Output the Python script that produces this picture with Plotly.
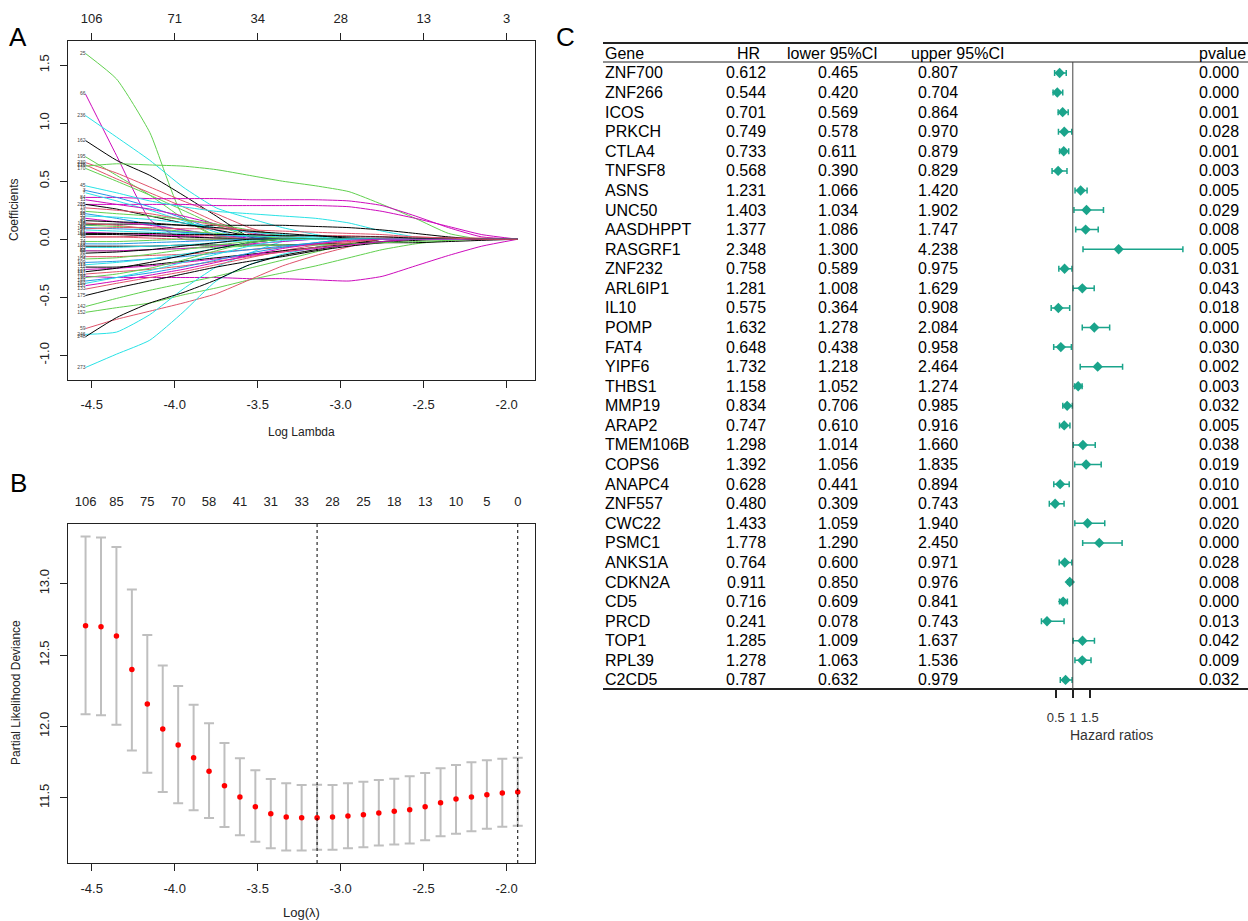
import plotly.graph_objects as go

W, H = 1248, 921
def px(x):
    return x / W
def py(y):
    return 1 - y / H

FONT = "Liberation Sans, Arial, sans-serif"
AXC = "#222222"
PALETTE = ["#000000", "#DF536B", "#61D04F", "#2297E6", "#28E2E5", "#CD0BBC"]

# ---------------- Panel A : LASSO coefficient paths ----------------
loglam_a = [-4.537, -4.35, -4.15, -3.95, -3.75, -3.55, -3.35, -3.15, -2.95, -2.75, -2.55, -2.35, -2.15, -1.933]
top_df_a_vals = [-4.5, -4.0, -3.5, -3.0, -2.5, -2.0]
top_df_a_text = ["106", "71", "34", "28", "13", "3"]

path_labels = ["25", "66", "236", "162", "195", "230", "216", "176", "170", "84", "201", "45", "118",
               "97", "152", "142", "59", "273", "246", "248", "175", "133", "12", "188", "31", "62",
               "3", "7", "11", "15", "19", "22", "28", "33", "38", "41", "44", "49", "53", "57",
               "61", "65", "70", "74", "79", "83", "88", "92", "99", "104", "109", "113", "121",
               "127", "131", "138", "144", "150", "157", "163", "169"]
path_colors = [2, 5, 4, 0, 2, 1, 1, 2, 2, 5, 5, 4, 0,
               5, 2, 2, 1, 4, 4, 0, 0, 1, 0, 0, 1, 2,
               3, 4, 5, 0, 1, 2, 3, 4, 5, 0, 1, 2, 3, 4,
               5, 0, 1, 2, 3, 4, 5, 0, 1, 2, 3, 4, 5,
               0, 1, 2, 3, 4, 5, 0, 1]
path_values = [
    [1.60, 1.38, 0.92, 0.20, 0.03, 0, 0, 0, 0, 0, 0, 0, 0, 0],
    [1.25, 0.72, 0.17, 0, 0, 0, 0, 0, 0, 0, 0, 0, 0, 0],
    [1.065, 0.88, 0.68, 0.45, 0.27, 0.18, 0.10, 0.04, 0, 0, 0, 0, 0, 0],
    [0.85, 0.68, 0.55, 0.38, 0.20, 0.02, 0, 0, 0, 0, 0, 0, 0, 0],
    [0.71, 0.55, 0.38, 0.18, 0.02, 0, 0, 0, 0, 0, 0, 0, 0, 0],
    [0.66, 0.57, 0.45, 0.33, 0.22, 0.10, 0.02, 0, 0, 0, 0, 0, 0, 0],
    [0.64, 0.52, 0.40, 0.28, 0.15, 0.05, 0, 0, 0, 0, 0, 0, 0, 0],
    [0.63, 0.65, 0.64, 0.63, 0.60, 0.55, 0.50, 0.46, 0.41, 0.30, 0.18, 0.05, 0, 0],
    [0.61, 0.50, 0.38, 0.25, 0.12, 0.03, 0, 0, 0, 0, 0, 0, 0, 0],
    [0.36, 0.36, 0.35, 0.35, 0.35, 0.34, 0.34, 0.34, 0.33, 0.29, 0.20, 0.10, 0.02, 0],
    [0.30, 0.30, 0.30, 0.30, 0.29, 0.29, 0.29, 0.29, 0.28, 0.24, 0.18, 0.11, 0.04, 0],
    [0.46, 0.40, 0.33, 0.28, 0.24, 0.22, 0.20, 0.18, 0.14, 0.07, 0.02, 0, 0, 0],
    [0.13, 0.13, 0.13, 0.12, 0.12, 0.12, 0.12, 0.11, 0.10, 0.08, 0.05, 0.02, 0, 0],
    [-0.32, -0.33, -0.33, -0.33, -0.33, -0.34, -0.34, -0.35, -0.36, -0.32, -0.23, -0.14, -0.06, 0],
    [-0.63, -0.59, -0.55, -0.48, -0.42, -0.35, -0.29, -0.23, -0.16, -0.09, -0.04, -0.01, 0, 0],
    [-0.58, -0.51, -0.44, -0.38, -0.32, -0.25, -0.18, -0.11, -0.04, 0, 0, 0, 0, 0],
    [-0.77, -0.69, -0.62, -0.55, -0.47, -0.35, -0.23, -0.14, -0.065, 0, 0, 0, 0, 0],
    [-1.105, -0.99, -0.87, -0.63, -0.36, -0.22, -0.13, -0.07, 0, 0, 0, 0, 0, 0],
    [-0.82, -0.80, -0.65, -0.43, -0.24, -0.12, -0.02, 0, 0, 0, 0, 0, 0, 0],
    [-0.84, -0.675, -0.55, -0.46, -0.35, -0.22, -0.14, -0.09, -0.045, 0, 0, 0, 0, 0],
    [-0.485, -0.42, -0.36, -0.30, -0.24, -0.19, -0.15, -0.10, -0.06, -0.03, -0.01, 0, 0, 0],
    [-0.43, -0.38, -0.33, -0.28, -0.22, -0.16, -0.10, -0.05, -0.02, 0, 0, 0, 0, 0],
    [-0.24, -0.24, -0.22, -0.19, -0.16, -0.13, -0.10, -0.07, -0.04, -0.02, 0, 0, 0, 0],
    [-0.06, -0.06, -0.06, -0.05, -0.05, -0.05, -0.05, -0.04, -0.04, -0.03, -0.03, -0.02, -0.01, 0],
    [0.02, 0.02, 0.03, 0.03, 0.03, 0.03, 0.03, 0.03, 0.03, 0.02, 0.02, 0.01, 0.01, 0],
    [-0.10, -0.10, -0.09, -0.08, -0.07, -0.06, -0.05, -0.05, -0.04, -0.03, -0.02, -0.01, 0, 0],
    [0.42, 0.36, 0.28, 0.18, 0.08, 0, 0, 0, 0, 0, 0, 0, 0, 0],
    [0.40, 0.33, 0.25, 0.16, 0.06, 0, 0, 0, 0, 0, 0, 0, 0, 0],
    [0.34, 0.30, 0.26, 0.20, 0.13, 0.06, 0.01, 0, 0, 0, 0, 0, 0, 0],
    [0.30, 0.26, 0.20, 0.14, 0.08, 0.03, 0, 0, 0, 0, 0, 0, 0, 0],
    [0.27, 0.25, 0.22, 0.17, 0.12, 0.07, 0.03, 0, 0, 0, 0, 0, 0, 0],
    [0.24, 0.22, 0.20, 0.17, 0.13, 0.08, 0.03, 0, 0, 0, 0, 0, 0, 0],
    [0.22, 0.18, 0.13, 0.08, 0.03, 0, 0, 0, 0, 0, 0, 0, 0, 0],
    [0.20, 0.19, 0.17, 0.14, 0.10, 0.06, 0.04, 0.02, 0, 0, 0, 0, 0, 0],
    [0.18, 0.15, 0.12, 0.08, 0.04, 0.01, 0, 0, 0, 0, 0, 0, 0, 0],
    [0.16, 0.15, 0.14, 0.12, 0.10, 0.07, 0.05, 0.03, 0.01, 0, 0, 0, 0, 0],
    [0.14, 0.12, 0.09, 0.06, 0.03, 0, 0, 0, 0, 0, 0, 0, 0, 0],
    [0.12, 0.11, 0.09, 0.07, 0.05, 0.03, 0.01, 0, 0, 0, 0, 0, 0, 0],
    [0.10, 0.09, 0.08, 0.06, 0.04, 0.02, 0, 0, 0, 0, 0, 0, 0, 0],
    [0.08, 0.07, 0.06, 0.05, 0.04, 0.03, 0.02, 0.01, 0, 0, 0, 0, 0, 0],
    [0.06, 0.05, 0.04, 0.03, 0.01, 0, 0, 0, 0, 0, 0, 0, 0, 0],
    [0.04, 0.04, 0.03, 0.02, 0.01, 0, 0, 0, 0, 0, 0, 0, 0, 0],
    [0.02, 0.02, 0.01, 0, 0, 0, 0, 0, 0, 0, 0, 0, 0, 0],
    [-0.02, -0.02, -0.01, 0, 0, 0, 0, 0, 0, 0, 0, 0, 0, 0],
    [-0.04, -0.04, -0.03, -0.02, -0.01, 0, 0, 0, 0, 0, 0, 0, 0, 0],
    [-0.07, -0.07, -0.06, -0.05, -0.03, -0.01, 0, 0, 0, 0, 0, 0, 0, 0],
    [-0.10, -0.10, -0.09, -0.08, -0.06, -0.04, -0.02, 0, 0, 0, 0, 0, 0, 0],
    [-0.12, -0.11, -0.09, -0.06, -0.03, 0, 0, 0, 0, 0, 0, 0, 0, 0],
    [-0.15, -0.15, -0.14, -0.13, -0.11, -0.09, -0.07, -0.04, -0.02, 0, 0, 0, 0, 0],
    [-0.17, -0.16, -0.13, -0.09, -0.05, -0.02, 0, 0, 0, 0, 0, 0, 0, 0],
    [-0.20, -0.19, -0.17, -0.15, -0.12, -0.09, -0.06, -0.03, 0, 0, 0, 0, 0, 0],
    [-0.22, -0.20, -0.17, -0.13, -0.08, -0.03, 0, 0, 0, 0, 0, 0, 0, 0],
    [-0.26, -0.25, -0.23, -0.20, -0.17, -0.14, -0.11, -0.08, -0.05, -0.02, 0, 0, 0, 0],
    [-0.28, -0.25, -0.20, -0.14, -0.08, -0.03, 0, 0, 0, 0, 0, 0, 0, 0],
    [-0.30, -0.28, -0.26, -0.23, -0.19, -0.15, -0.11, -0.07, -0.03, 0, 0, 0, 0, 0],
    [-0.33, -0.30, -0.25, -0.18, -0.10, -0.03, 0, 0, 0, 0, 0, 0, 0, 0],
    [-0.36, -0.33, -0.29, -0.24, -0.18, -0.12, -0.07, -0.03, 0, 0, 0, 0, 0, 0],
    [-0.38, -0.33, -0.27, -0.20, -0.13, -0.06, -0.01, 0, 0, 0, 0, 0, 0, 0],
    [-0.40, -0.36, -0.31, -0.26, -0.20, -0.14, -0.08, -0.04, -0.01, 0, 0, 0, 0, 0],
    [0.05, 0.05, 0.05, 0.04, 0.04, 0.04, 0.03, 0.03, 0.02, 0.02, 0.01, 0.01, 0, 0],
    [0.09, 0.10, 0.10, 0.09, 0.09, 0.08, 0.07, 0.06, 0.05, 0.04, 0.02, 0.01, 0, 0],
]

# ---------------- Panel B : cross-validation curve ----------------
loglam_b = [-4.537, -4.444, -4.351, -4.258, -4.165, -4.072, -3.979, -3.886, -3.793, -3.700,
            -3.607, -3.514, -3.421, -3.328, -3.235, -3.142, -3.049, -2.956, -2.863, -2.770,
            -2.677, -2.584, -2.491, -2.398, -2.305, -2.212, -2.119, -2.026, -1.933]
cv_mean = [12.706, 12.699, 12.634, 12.398, 12.157, 11.982, 11.870, 11.780, 11.685, 11.584,
           11.505, 11.437, 11.388, 11.365, 11.360, 11.360, 11.365, 11.372, 11.381, 11.393,
           11.405, 11.416, 11.437, 11.465, 11.491, 11.505, 11.521, 11.533, 11.540]
cv_upper = [13.330, 13.323, 13.256, 12.959, 12.641, 12.426, 12.283, 12.152, 12.022, 11.884,
            11.776, 11.692, 11.631, 11.601, 11.589, 11.591, 11.589, 11.601, 11.612, 11.624,
            11.633, 11.650, 11.673, 11.706, 11.729, 11.748, 11.762, 11.773, 11.780]
cv_lower = [12.085, 12.078, 12.012, 11.832, 11.675, 11.540, 11.461, 11.412, 11.358, 11.295,
            11.238, 11.191, 11.147, 11.131, 11.131, 11.135, 11.135, 11.147, 11.154, 11.166,
            11.173, 11.180, 11.203, 11.231, 11.248, 11.266, 11.283, 11.297, 11.304]
top_df_b_text = ["106", "85", "75", "70", "58", "41", "31", "33", "28", "25", "18", "13", "10", "5", "0"]
lambda_min = -3.142
lambda_1se = -1.933

# ---------------- Panel C : univariate Cox forest table ----------------
genes = ["ZNF700", "ZNF266", "ICOS", "PRKCH", "CTLA4", "TNFSF8", "ASNS", "UNC50", "AASDHPPT",
         "RASGRF1", "ZNF232", "ARL6IP1", "IL10", "POMP", "FAT4", "YIPF6", "THBS1", "MMP19",
         "ARAP2", "TMEM106B", "COPS6", "ANAPC4", "ZNF557", "CWC22", "PSMC1", "ANKS1A",
         "CDKN2A", "CD5", "PRCD", "TOP1", "RPL39", "C2CD5"]
hr = [0.612, 0.544, 0.701, 0.749, 0.733, 0.568, 1.231, 1.403, 1.377, 2.348, 0.758, 1.281,
      0.575, 1.632, 0.648, 1.732, 1.158, 0.834, 0.747, 1.298, 1.392, 0.628, 0.480, 1.433,
      1.778, 0.764, 0.911, 0.716, 0.241, 1.285, 1.278, 0.787]
ci_low = [0.465, 0.420, 0.569, 0.578, 0.611, 0.390, 1.066, 1.034, 1.086, 1.300, 0.589, 1.008,
          0.364, 1.278, 0.438, 1.218, 1.052, 0.706, 0.610, 1.014, 1.056, 0.441, 0.309, 1.059,
          1.290, 0.600, 0.850, 0.609, 0.078, 1.009, 1.063, 0.632]
ci_up = [0.807, 0.704, 0.864, 0.970, 0.879, 0.829, 1.420, 1.902, 1.747, 4.238, 0.975, 1.629,
         0.908, 2.084, 0.958, 2.464, 1.274, 0.985, 0.916, 1.660, 1.835, 0.894, 0.743, 1.940,
         2.450, 0.971, 0.976, 0.841, 0.743, 1.637, 1.536, 0.979]
pvalues = ["0.000", "0.000", "0.001", "0.028", "0.001", "0.003", "0.005", "0.029", "0.008",
           "0.005", "0.031", "0.043", "0.018", "0.000", "0.030", "0.002", "0.003", "0.032",
           "0.005", "0.038", "0.019", "0.010", "0.001", "0.020", "0.000", "0.028", "0.008",
           "0.000", "0.013", "0.042", "0.009", "0.032"]
table_headers = ["Gene", "HR", "lower 95%CI", "upper 95%CI", "pvalue"]
hr_ticks = [0.5, 1, 1.5]

fig = go.Figure()

# ---- Panel A traces
for lab, ci, vals in zip(path_labels, path_colors, path_values):
    fig.add_trace(go.Scatter(x=loglam_a, y=vals, mode="lines", xaxis="x", yaxis="y",
                             line=dict(color=PALETTE[ci], width=1, shape="spline", smoothing=0.5),
                             showlegend=False, hoverinfo="skip"))
fig.add_trace(go.Scatter(x=[loglam_a[0]] * len(path_values), y=[v[0] for v in path_values],
                         text=path_labels, mode="text", textposition="middle left",
                         textfont=dict(size=5, color="#444444"), xaxis="x", yaxis="y",
                         showlegend=False, hoverinfo="skip", cliponaxis=False))
# invisible carrier so the top (df) axis of panel A is drawn
fig.add_trace(go.Scatter(x=top_df_a_vals, y=[0] * len(top_df_a_vals), mode="markers",
                         marker=dict(opacity=0), xaxis="x2", yaxis="y",
                         showlegend=False, hoverinfo="skip"))

# ---- Panel B traces
fig.add_trace(go.Scatter(
    x=loglam_b, y=cv_mean, mode="markers", xaxis="x3", yaxis="y3",
    marker=dict(color="#ff0000", size=5.5),
    error_y=dict(type="data", symmetric=False,
                 array=[u - m for u, m in zip(cv_upper, cv_mean)],
                 arrayminus=[m - l for m, l in zip(cv_mean, cv_lower)],
                 color="#bfbfbf", thickness=2, width=5),
    showlegend=False, hoverinfo="skip"))
fig.add_trace(go.Scatter(x=loglam_b, y=cv_mean, mode="markers", marker=dict(opacity=0),
                         xaxis="x4", yaxis="y3", showlegend=False, hoverinfo="skip"))

# ---- Panel C traces
rows = list(range(1, len(genes) + 1))
TEAL = "#1aa48b"
fig.add_trace(go.Scatter(
    x=hr, y=rows, mode="markers", xaxis="x5", yaxis="y5",
    marker=dict(symbol="diamond", size=8, color=TEAL),
    error_x=dict(type="data", symmetric=False,
                 array=[u - h for u, h in zip(ci_up, hr)],
                 arrayminus=[h - l for h, l in zip(hr, ci_low)],
                 color=TEAL, thickness=1.5, width=3),
    showlegend=False, hoverinfo="skip"))

# ---- Axes
common = dict(showgrid=False, zeroline=False, ticks="outside", ticklen=7, tickwidth=1,
              tickcolor=AXC, tickfont=dict(size=13, color="#222222", family=FONT))
frame = dict(showline=True, mirror=True, linecolor=AXC, linewidth=1)
xrange_ab = [-4.641, -1.829]
xdom_ab = [px(68.3), px(535)]

layout = dict(
    width=W, height=H, margin=dict(l=0, r=0, t=0, b=0),
    paper_bgcolor="white", plot_bgcolor="white",
    font=dict(family=FONT, color="#222222"),
    showlegend=False,
    xaxis=dict(domain=xdom_ab, range=xrange_ab, anchor="y",
               tickvals=top_df_a_vals, ticktext=["-4.5", "-4.0", "-3.5", "-3.0", "-2.5", "-2.0"],
               ticklabelstandoff=5, **common, **frame),
    yaxis=dict(domain=[py(380), py(41)], range=[-1.213, 1.708], anchor="x",
               tickvals=[-1.0, -0.5, 0.0, 0.5, 1.0, 1.5],
               ticktext=["-1.0", "-0.5", "0.0", "0.5", "1.0", "1.5"],
               tickangle=-90, ticklabelstandoff=6, **common, **frame),
    xaxis2=dict(overlaying="x", side="top", anchor="y", range=xrange_ab,
                tickvals=top_df_a_vals, ticktext=top_df_a_text, ticklabelstandoff=5,
                showline=False, **common),
    xaxis3=dict(domain=xdom_ab, range=xrange_ab, anchor="y3",
                tickvals=top_df_a_vals, ticktext=["-4.5", "-4.0", "-3.5", "-3.0", "-2.5", "-2.0"],
                ticklabelstandoff=6, **common, **frame),
    yaxis3=dict(domain=[py(863), py(524)], range=[11.043, 13.418], anchor="x3",
                tickvals=[11.5, 12.0, 12.5, 13.0], ticktext=["11.5", "12.0", "12.5", "13.0"],
                tickangle=-90, ticklabelstandoff=6, **common, **frame),
    xaxis4=dict(overlaying="x3", side="top", anchor="y3", range=xrange_ab,
                tickvals=loglam_b[::2], ticktext=top_df_b_text, ticks="",
                showline=False, showgrid=False, zeroline=False, ticklabelstandoff=14,
                tickfont=dict(size=13, color="#222222", family=FONT)),
    xaxis5=dict(domain=[px(1030), px(1190)], range=[(1030 - 1072.8) / 34 + 1, (1190 - 1072.8) / 34 + 1],
                anchor="free", position=py(689), tickvals=hr_ticks, ticktext=["0.5", "1", "1.5"],
                ticks="outside", ticklen=8, tickwidth=2, tickcolor=AXC, showline=False,
                showgrid=False, zeroline=False, ticklabelstandoff=8,
                tickfont=dict(size=13, color="#333333", family=FONT)),
    yaxis5=dict(domain=[py(760), py(30)], range=[36.09, -1.196], anchor="x5", visible=False),
)
fig.update_layout(**layout)

# ---- Shapes
shapes = []
shapes.append(dict(type="line", xref="x3", yref="paper", x0=lambda_min, x1=lambda_min,
                   y0=py(863), y1=py(524), line=dict(color="#000000", width=1, dash="dot")))
shapes.append(dict(type="line", xref="x3", yref="paper", x0=lambda_1se, x1=lambda_1se,
                   y0=py(863), y1=py(524), line=dict(color="#000000", width=1, dash="dot")))
# forest table rules
shapes.append(dict(type="line", xref="paper", yref="paper", x0=px(603), x1=1, y0=py(43), y1=py(43),
                   line=dict(color="#222222", width=2)))
shapes.append(dict(type="line", xref="paper", yref="paper", x0=px(603), x1=1, y0=py(62), y1=py(62),
                   line=dict(color="#222222", width=1)))
shapes.append(dict(type="line", xref="paper", yref="paper", x0=px(603), x1=1, y0=py(689), y1=py(689),
                   line=dict(color="#222222", width=2)))
shapes.append(dict(type="line", xref="x5", yref="paper", x0=1, x1=1, y0=py(689), y1=py(62),
                   line=dict(color="#444444", width=1)))
fig.update_layout(shapes=shapes)

# ---- Annotations
ann = []
def txt(x, y, s, size=13, xanchor="center", yanchor="middle", xref="paper", yref="paper", angle=0,
        color="#222222"):
    ann.append(dict(x=x, y=y, text=s, xref=xref, yref=yref, showarrow=False, xanchor=xanchor,
                    yanchor=yanchor, textangle=angle,
                    font=dict(size=size, color=color, family=FONT)))

txt(px(18), py(37), "A", size=26, color="#000000")
txt(px(18), py(483), "B", size=26, color="#000000")
txt(px(565), py(37), "C", size=26, color="#000000")
txt(px(301), py(432), "Log Lambda", size=12)
txt(px(14), py(210), "Coefficients", size=12, angle=-90)
txt(px(301), py(912), "Log(λ)", size=13)
txt(px(16), py(693), "Partial Likelihood Deviance", size=12, angle=-90)
txt(px(1111), py(735), "Hazard ratios", size=14, color="#333333")

TS = 16
col_x = {"gene": 603, "hr": 746, "low": 838, "up": 938, "p": 1197}
txt(px(col_x["gene"]), 0, table_headers[0], size=TS, xanchor="left", yref="y5", color="#000000")
txt(px(748), 0, table_headers[1], size=TS, yref="y5", color="#000000")
txt(px(832), 0, table_headers[2], size=TS, yref="y5", color="#000000")
txt(px(957), 0, table_headers[3], size=TS, yref="y5", color="#000000")
txt(px(col_x["p"]), 0, table_headers[4], size=TS, xanchor="left", yref="y5", color="#000000")
for r, g, h, lo, up, pv in zip(rows, genes, hr, ci_low, ci_up, pvalues):
    txt(px(col_x["gene"]), r, g, size=TS, xanchor="left", yref="y5", color="#000000")
    txt(px(col_x["hr"]), r, f"{h:.3f}", size=TS, yref="y5", color="#000000")
    txt(px(col_x["low"]), r, f"{lo:.3f}", size=TS, yref="y5", color="#000000")
    txt(px(col_x["up"]), r, f"{up:.3f}", size=TS, yref="y5", color="#000000")
    txt(px(col_x["p"]), r, pv, size=TS, xanchor="left", yref="y5", color="#000000")
fig.update_layout(annotations=ann)

fig.write_html("out.html")
